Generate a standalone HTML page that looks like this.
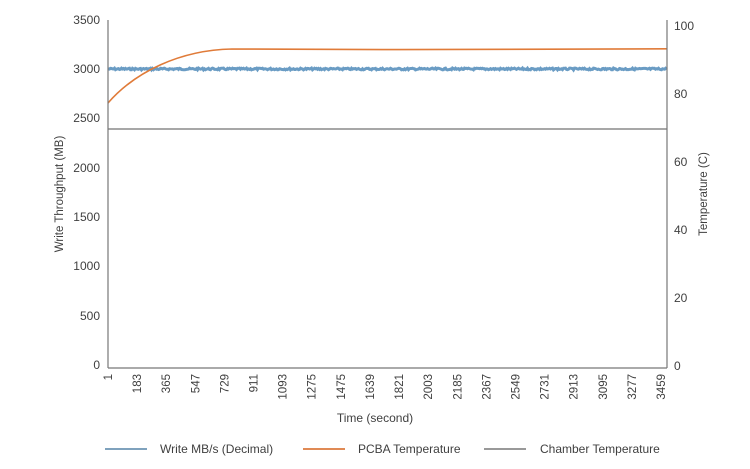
<!DOCTYPE html>
<html><head><meta charset="utf-8"><style>
body{margin:0;background:#fff;}
svg{display:block;font-family:"Liberation Sans",sans-serif;fill:#333;}
</style></head><body>
<svg id="s" width="750" height="469" viewBox="0 0 750 469">
<g font-size="12" fill="#404040">
<text x="100" y="24" text-anchor="end">3500</text>
<text x="100" y="73" text-anchor="end">3000</text>
<text x="100" y="122" text-anchor="end">2500</text>
<text x="100" y="172" text-anchor="end">2000</text>
<text x="100" y="221" text-anchor="end">1500</text>
<text x="100" y="270" text-anchor="end">1000</text>
<text x="100" y="320" text-anchor="end">500</text>
<text x="100" y="369" text-anchor="end">0</text>
<text x="674" y="30">100</text>
<text x="674" y="98">80</text>
<text x="674" y="166">60</text>
<text x="674" y="234">40</text>
<text x="674" y="302">20</text>
<text x="674" y="370">0</text>
<text transform="translate(63,194) rotate(-90)" text-anchor="middle" font-size="11.5">Write Throughput (MB)</text>
<text transform="translate(707,194) rotate(-90)" text-anchor="middle" font-size="11.5">Temperature (C)</text>
<text x="375" y="422" text-anchor="middle" font-size="12">Time (second)</text>
<g id="xl"></g>
<line x1="105" y1="449" x2="147" y2="449" stroke="#7fa2bd" stroke-width="2"/>
<text x="160" y="453">Write MB/s (Decimal)</text>
<line x1="303" y1="449" x2="345" y2="449" stroke="#e08a55" stroke-width="2"/>
<text x="358" y="453">PCBA Temperature</text>
<line x1="484" y1="449" x2="526" y2="449" stroke="#999" stroke-width="2"/>
<text x="540" y="453">Chamber Temperature</text>
</g>
<line x1="108" y1="129" x2="667" y2="129" stroke="#8a8a8a" stroke-width="1.5"/>
<path id="blue" fill="none" stroke="#6a9cc4" stroke-width="3"/>
<path d="M108,103 C135,72 180,50 232,49 L400,49.6 L667,48.8" fill="none" stroke="#e07b39" stroke-width="1.6"/>
<line x1="108" y1="20" x2="108" y2="368" stroke="#777" stroke-width="1.2"/>
<line x1="667" y1="20" x2="667" y2="368" stroke="#777" stroke-width="1.2"/>
<line x1="108" y1="368" x2="667" y2="368" stroke="#777" stroke-width="1.2"/>
</svg>
<script>
var labs=[1,183,365,547,729,911,1093,1275,1475,1639,1821,2003,2185,2367,2549,2731,2913,3095,3277,3459];
var g=document.getElementById('xl'),ns='http://www.w3.org/2000/svg';
for(var i=0;i<labs.length;i++){var x=108+i*(661-108)/(labs.length-1)+4;var t=document.createElementNS(ns,'text');
t.setAttribute('transform','translate('+x+',374) rotate(-90)');t.setAttribute('text-anchor','end');t.setAttribute('font-size','11.5');t.textContent=labs[i];g.appendChild(t);}
var d='M108,69',s=7;function r(){s=(s*9301+49297)%233280;return s/233280;}
for(var x=108.5;x<=667;x+=1){d+=' L'+x.toFixed(1)+','+(69+(r()-0.5)*1.8).toFixed(1);}
document.getElementById('blue').setAttribute('d',d);
</script>
</body></html>
